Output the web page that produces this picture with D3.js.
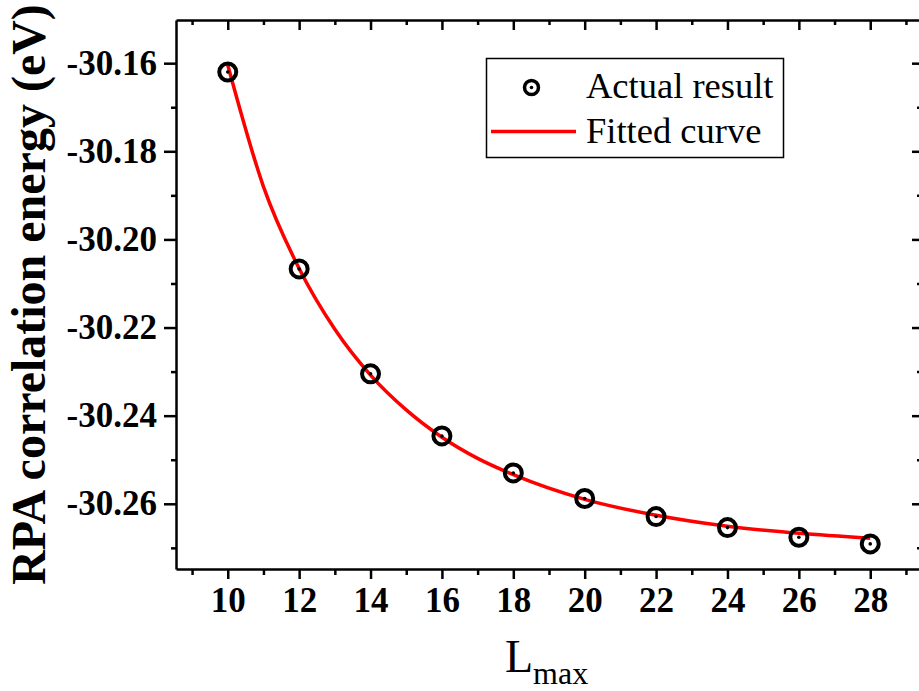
<!DOCTYPE html>
<html>
<head>
<meta charset="utf-8">
<script src="https://cdn.jsdelivr.net/npm/d3@7"></script>
<style>
  body { margin: 0; background: #fff; }
  svg { display: block; }
  svg text { font-family: "Liberation Serif", "Times New Roman", serif; fill: #000; }
</style>
</head>
<body>
<svg id="chart" width="919" height="691"></svg>
<script>
// measured points
let lmax = [10, 12, 14, 16, 18, 20, 22, 24, 26, 28];
let actual = [-30.1620, -30.2067, -30.2305, -30.2446, -30.2530, -30.2588, -30.2629, -30.2654, -30.2676, -30.2691];
// fitted curve
let fitX = [10, 11, 12, 13, 14, 15, 16, 17, 18, 20, 22, 24, 26, 28];
let fitY = [-30.1604, -30.1880, -30.2066, -30.2204, -30.2308, -30.2387, -30.2449, -30.2497, -30.2534, -30.2590, -30.2626, -30.2651, -30.2667, -30.2678];
let xTicks = [10, 12, 14, 16, 18, 20, 22, 24, 26, 28];
let xMinor = [9, 11, 13, 15, 17, 19, 21, 23, 25, 27, 29];
let yTicks = [-30.16, -30.18, -30.20, -30.22, -30.24, -30.26];
let yMinor = [-30.17, -30.19, -30.21, -30.23, -30.25, -30.27];

const svg = d3.select("#chart");
let margin = { top: 20, right: -3, bottom: 122, left: 176 };
let width = +svg.attr("width");
let height = +svg.attr("height");
const serif = '"Liberation Serif", "Times New Roman", serif';

let x = d3.scaleLinear()
  .domain([8.55, 29.45])
  .range([margin.left, width - margin.right]);

let y = d3.scaleLinear()
  .domain([-30.2748, -30.1502])
  .range([height - margin.bottom, margin.top]);

const plotBottom = height - margin.bottom;
const plotLeft = margin.left;
const plotRight = width - margin.right;
const plotTop = margin.top;

function styleAxis(g) {
  g.select(".domain").attr("stroke-width", 2.5);
  g.selectAll(".tick line").attr("stroke-width", 2.5);
}
function styleLabels(g) {
  g.selectAll("text")
    .style("font-family", serif)
    .style("font-size", "35px")
    .style("font-weight", "bold")
    .attr("fill", "#000");
}

// bottom axis: major + minor, outward
svg.append("g")
  .attr("transform", `translate(0,${plotBottom})`)
  .call(d3.axisBottom(x).tickValues(xMinor).tickSize(6).tickFormat("").tickSizeOuter(0))
  .call(g => g.select(".domain").remove())
  .call(styleAxis);
svg.append("g")
  .attr("transform", `translate(0,${plotBottom})`)
  .call(d3.axisBottom(x).tickValues(xTicks).tickSize(10).tickPadding(8).tickSizeOuter(0))
  .call(styleAxis)
  .call(styleLabels);

// top axis, ticks inward
svg.append("g")
  .attr("transform", `translate(0,${plotTop})`)
  .call(d3.axisBottom(x).tickValues(xMinor).tickSize(5).tickFormat("").tickSizeOuter(0))
  .call(g => g.select(".domain").remove())
  .call(styleAxis);
svg.append("g")
  .attr("transform", `translate(0,${plotTop})`)
  .call(d3.axisBottom(x).tickValues(xTicks).tickSize(10).tickFormat("").tickSizeOuter(0))
  .call(styleAxis);

// left axis
svg.append("g")
  .attr("transform", `translate(${plotLeft},0)`)
  .call(d3.axisLeft(y).tickValues(yMinor).tickSize(5).tickFormat("").tickSizeOuter(0))
  .call(g => g.select(".domain").remove())
  .call(styleAxis);
svg.append("g")
  .attr("transform", `translate(${plotLeft},0)`)
  .call(d3.axisLeft(y).tickValues(yTicks).tickSize(12).tickPadding(7).tickSizeOuter(0)
    .tickFormat(d => d.toFixed(2)))
  .call(styleAxis)
  .call(styleLabels);

// right axis, ticks inward
svg.append("g")
  .attr("transform", `translate(${plotRight},0)`)
  .call(d3.axisLeft(y).tickValues(yMinor).tickSize(5).tickFormat("").tickSizeOuter(0))
  .call(g => g.select(".domain").remove())
  .call(styleAxis);
svg.append("g")
  .attr("transform", `translate(${plotRight},0)`)
  .call(d3.axisLeft(y).tickValues(yTicks).tickSize(10).tickFormat("").tickSizeOuter(0))
  .call(styleAxis);

// fitted curve
let line = d3.line()
  .curve(d3.curveMonotoneX)
  .x((d, i) => x(fitX[i]))
  .y(d => y(d));

svg.append("path")
  .datum(fitY)
  .attr("fill", "none")
  .attr("stroke", "#ff0000")
  .attr("stroke-width", 3.5)
  .attr("d", line);

// points
let pts = svg.append("g");
lmax.forEach((l, i) => {
  pts.append("circle")
    .attr("cx", x(l)).attr("cy", y(actual[i]))
    .attr("r", 8.5).attr("fill", "none")
    .attr("stroke", "#000").attr("stroke-width", 4);
  pts.append("circle")
    .attr("cx", x(l)).attr("cy", y(actual[i]))
    .attr("r", 1.8).attr("fill", "#000");
});

// legend
let lg = svg.append("g");
lg.append("rect")
  .attr("x", 486.5).attr("y", 58.5).attr("width", 297).attr("height", 99)
  .attr("fill", "#fff").attr("stroke", "#000").attr("stroke-width", 1.5);
lg.append("circle").attr("cx", 531.5).attr("cy", 87.5).attr("r", 7)
  .attr("fill", "none").attr("stroke", "#000").attr("stroke-width", 3.5);
lg.append("circle").attr("cx", 531.5).attr("cy", 87.5).attr("r", 1.8).attr("fill", "#000");
lg.append("line").attr("x1", 491).attr("x2", 576).attr("y1", 131.5).attr("y2", 131.5)
  .attr("stroke", "#ff0000").attr("stroke-width", 3.5);
lg.append("text").attr("x", 586).attr("y", 98).style("font-size", "36.5px").text("Actual result");
lg.append("text").attr("x", 586).attr("y", 143).style("font-size", "36.5px").text("Fitted curve");

// axis titles
svg.append("text")
  .attr("transform", `translate(45,${(plotTop + plotBottom) / 2}) rotate(-90)`)
  .attr("text-anchor", "middle")
  .style("font-size", "48px").style("font-weight", "bold")
  .text("RPA correlation energy (eV)");

let xt = svg.append("text")
  .attr("x", 505).attr("y", 672)
  .style("font-size", "46px");
xt.append("tspan").text("L");
xt.append("tspan").style("font-size", "32px").attr("dy", 12).text("max");
</script>
</body>
</html>
